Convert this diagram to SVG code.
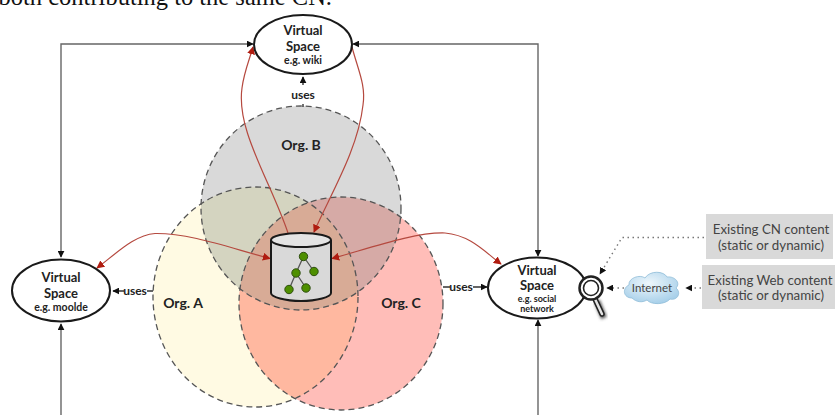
<svg xmlns="http://www.w3.org/2000/svg" width="835" height="415" viewBox="0 0 835 415">
<style>
text{font-family:"Lato","Open Sans","Liberation Sans",sans-serif;fill:#222;text-anchor:middle}
.t{font-weight:700;font-size:13px}
.s{font-weight:700;font-size:10.500px}
.s2{font-weight:700;font-size:9px}
.u{font-weight:700;font-size:12px}
.o{font-weight:700;font-size:14px}
.g{font-size:13.300px;fill:#444}
.org{fill:none;stroke:#555;stroke-width:1.3;stroke-dasharray:6 4}
.vs{fill:#fff;stroke:#1a1a1a;stroke-width:2}
.k{fill:none;stroke:#666;stroke-width:1.4}
.r{fill:none;stroke:#b5493f;stroke-width:1.2}
.d{fill:none;stroke:#777;stroke-width:1.4;stroke-dasharray:1.5 3.5}
.b{fill:none;stroke:#333;stroke-width:1.4}
.box{fill:#d9d9d9}
.tn{fill:#4e8f00;stroke:#2f4f10;stroke-width:1}
</style>
<defs>
<marker id="ka" viewBox="0 0 10 10" refX="9" refY="5" markerWidth="7" markerHeight="7" markerUnits="userSpaceOnUse" orient="auto-start-reverse"><path d="M0 0L10 5L0 10Z" fill="#111"/></marker>
<marker id="ra" viewBox="0 0 10 10" refX="9" refY="5" markerWidth="8" markerHeight="8" markerUnits="userSpaceOnUse" orient="auto-start-reverse"><path d="M0 0L10 5L0 10Z" fill="#b01c10"/></marker>
<clipPath id="ca"><ellipse cx="255.500" cy="297" rx="102.500" ry="110"/></clipPath>
<clipPath id="cb"><ellipse cx="301" cy="208" rx="100" ry="102"/></clipPath>
<radialGradient id="cl" cx="0.45" cy="0.35" r="0.7"><stop offset="0" stop-color="#eef7fc"/><stop offset="1" stop-color="#a3cde8"/></radialGradient>
<filter id="sh" x="-50%" y="-50%" width="200%" height="200%"><feGaussianBlur stdDeviation="1.800"/></filter>
</defs>
<text x="332" y="5" style="font-family:'Liberation Serif',serif;font-size:24.500px;fill:#111;text-anchor:end">both contributing to the same CN.</text>
<g id="org-a"><ellipse cx="255.500" cy="297" rx="102.500" ry="110" fill="#fffae3"/></g>
<g id="org-c"><ellipse cx="341" cy="303.500" rx="102" ry="106.500" fill="#ffbdb8"/><ellipse cx="341" cy="303.500" rx="102" ry="106.500" fill="#ffb8a0" clip-path="url(#ca)"/></g>
<g id="org-b"><ellipse cx="301" cy="208" rx="100" ry="102" fill="#d9d9d9"/>
<g clip-path="url(#cb)"><ellipse cx="255.500" cy="297" rx="102.500" ry="110" fill="#d4d4c0"/><ellipse cx="341" cy="303.500" rx="102" ry="106.500" fill="#d6aaa6"/><g clip-path="url(#ca)"><ellipse cx="341" cy="303.500" rx="102" ry="106.500" fill="#d8ab96"/></g></g>
<ellipse class="org" cx="301" cy="208" rx="100" ry="102"/></g>
<ellipse class="org" cx="255.500" cy="297" rx="102.500" ry="110"/>
<ellipse class="org" cx="341" cy="303.500" rx="102" ry="106.500"/>
<text class="o" x="301" y="150">Org. B</text>
<text class="o" x="183" y="308">Org. A</text>
<text class="o" x="401" y="308">Org. C</text>
<g id="connectors">
<path class="k" d="M61 257V44H253" marker-start="url(#ka)" marker-end="url(#ka)"/>
<path class="k" d="M538 256V44H353" marker-start="url(#ka)" marker-end="url(#ka)"/>
<path class="k" d="M61 415V324" marker-end="url(#ka)"/>
<path class="k" d="M538 415V320" marker-end="url(#ka)"/>
<path class="b" d="M303 85V77" marker-end="url(#ka)"/>
<path class="b" d="M303 104V107"/>
<path class="b" d="M153 291H147M124 291H113" marker-end="url(#ka)"/>
<path class="b" d="M443 287H450M473 287H487" marker-end="url(#ka)"/>
<path class="r" d="M288 233C270 180 236 130 242 88C244 72 250 58 253 47" marker-end="url(#ra)"/>
<path class="r" d="M352 47C358 70 366 85 363 105C358 150 330 195 314 232" marker-end="url(#ra)"/>
<path class="r" d="M270 258.500C230 248 190 233 155 233.500C135 235 118 252 97 268" marker-start="url(#ra)" marker-end="url(#ra)"/>
<path class="r" d="M332 258.500C370 248 415 232 445 233C470 235 485 252 501 264" marker-start="url(#ra)" marker-end="url(#ra)"/>
<path class="d" d="M704 237.500H622L600 274" marker-end="url(#ka)"/>
<path class="d" d="M701 288H686" marker-end="url(#ka)"/>
<path class="d" d="M624 288H607" marker-end="url(#ka)"/>
</g>
<g id="vs-top"><ellipse class="vs" cx="303" cy="44.500" rx="49" ry="29.500"/><text class="t" x="303" y="35">Virtual</text><text class="t" x="303" y="50.500">Space</text><text class="s" x="303" y="64">e.g. wiki</text></g>
<g id="vs-left"><ellipse class="vs" cx="61" cy="290.500" rx="49" ry="31"/><text class="t" x="61" y="282">Virtual</text><text class="t" x="61" y="297.500">Space</text><text class="s" x="61" y="311">e.g. moolde</text></g>
<g id="vs-right"><ellipse class="vs" cx="537" cy="288" rx="49" ry="30.500"/><text class="t" x="537" y="274.500">Virtual</text><text class="t" x="537" y="290">Space</text><text class="s2" x="537" y="302">e.g. social</text><text class="s2" x="537" y="312">network</text></g>
<text class="u" x="303" y="99">uses</text>
<text class="u" x="135" y="295">uses</text>
<text class="u" x="461" y="291">uses</text>
<g id="db">
<path d="M271 240V293C271 297 285 301 301 301C317 301 331 297 331 293V240" fill="#d9d9d9" stroke="#1a1a1a" stroke-width="2"/>
<ellipse cx="301" cy="240" rx="30" ry="7" fill="#e4e4e4" stroke="#1a1a1a" stroke-width="2"/>
<path d="M303.500 256.500L296 273L289 289.500M303.500 256.500L314 271.500M296 273L306 288" fill="none" stroke="#555" stroke-width="1.300"/>
<circle class="tn" cx="303.500" cy="256.500" r="4.200"/><circle class="tn" cx="296" cy="273" r="4.200"/><circle class="tn" cx="314" cy="271.500" r="4.200"/><circle class="tn" cx="289" cy="289.500" r="4.200"/><circle class="tn" cx="306" cy="288" r="4.200"/>
</g>
<g id="lens">
<path d="M597 301L604 318" stroke="#555" stroke-width="6" fill="none" filter="url(#sh)"/>
<path d="M595 299L602 314" stroke="#222" stroke-width="5.500" stroke-linecap="round"/>
<path d="M595 299L602 314" stroke="#e4e4e4" stroke-width="2.500" stroke-linecap="round"/>
<circle cx="591" cy="288" r="11.500" fill="#fff" stroke="#222" stroke-width="2.500"/>
<circle cx="591" cy="288" r="7.500" fill="#fff" stroke="#222" stroke-width="1.600"/>
</g>
<g id="internet">
<path d="M632 298C623 298 622 288 629 285C628 278 640 274 645 278C650 270 664 271 667 277C675 276 681 283 676 288C682 293 677 301 670 299C665 305 651 305 647 300C642 303 636 302 632 298Z" fill="url(#cl)" stroke="#8fbcd8" stroke-width="0.800"/>
<text x="652" y="292" style="font-size:11.500px;fill:#444">Internet</text>
</g>
<g id="cn-box"><rect class="box" x="706" y="214" width="127" height="45"/><text class="g" x="771" y="234">Existing CN content</text><text class="g" x="771" y="250">(static or dynamic)</text></g>
<g id="web-box"><rect class="box" x="702" y="265" width="133" height="44"/><text class="g" x="770" y="285">Existing Web content</text><text class="g" x="771" y="300">(static or dynamic)</text></g>
</svg>
